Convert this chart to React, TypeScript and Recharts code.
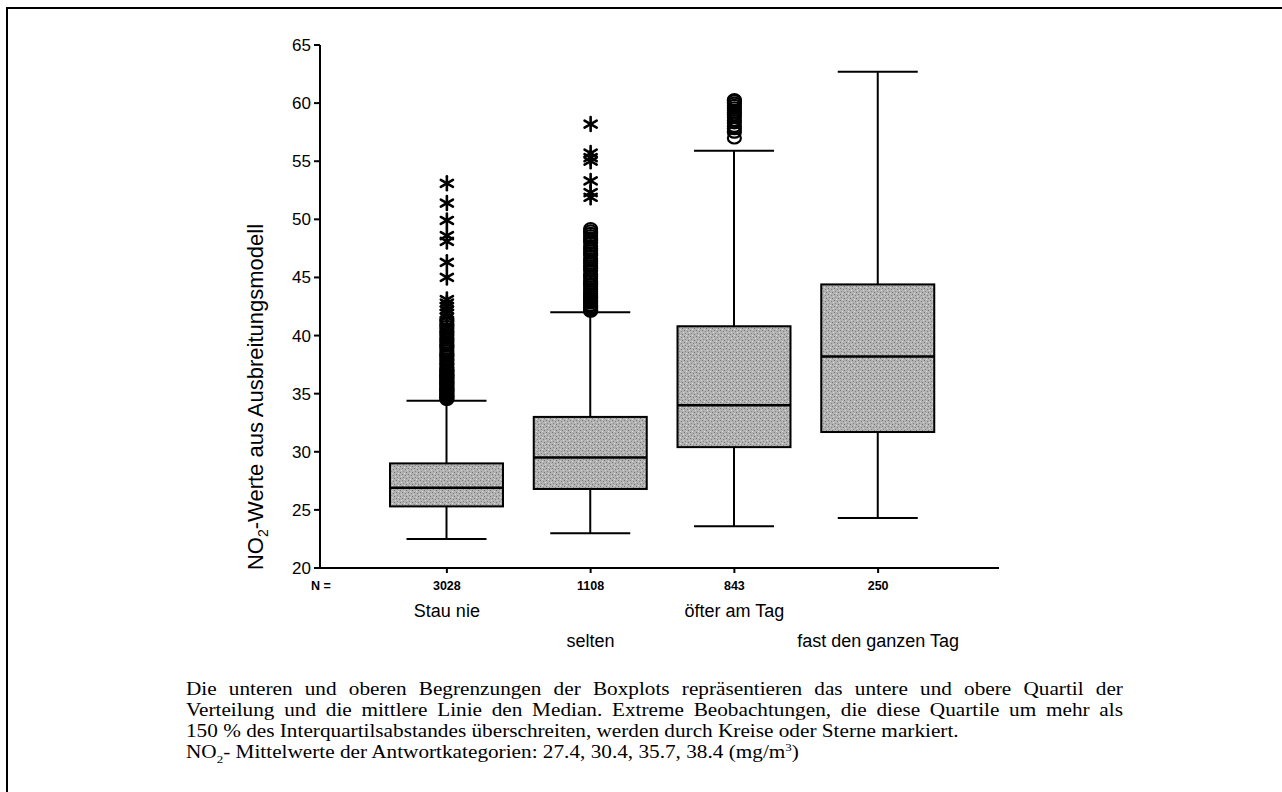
import React from 'react'
import { ComposedChart, Bar, Scatter, XAxis, YAxis } from 'recharts'

const categories = ['Stau nie', 'selten', 'öfter am Tag', 'fast den ganzen Tag']
const nCounts = [3028, 1108, 843, 250]

// boxplot statistics
const whiskerLow = [22.5, 23.0, 23.6, 24.3]
const q1 = [25.3, 26.8, 30.4, 31.7]
const median = [26.9, 29.5, 34.0, 38.2]
const q3 = [29.0, 33.0, 40.8, 44.4]
const whiskerHigh = [34.4, 42.0, 55.9, 62.7]

// outliers (circles) and extremes (stars)
const circlesStau = [
  34.5, 34.6, 34.7, 34.8, 34.9, 35.0, 35.1, 35.2, 35.3, 35.4, 35.5, 35.6, 35.7, 35.8, 35.9, 36.0,
  36.1, 36.2, 36.3, 36.4, 36.5, 36.6, 36.7, 36.8, 36.9, 37.0, 37.1, 37.3, 37.5, 37.6, 37.8, 38.0,
  38.2, 38.3, 38.5, 38.7, 38.9, 39.1, 39.2, 39.4, 39.6, 39.8, 40.0, 40.2, 40.4, 40.6, 40.8, 41.0,
  41.2, 41.4,
]
const starsStau = [53.1, 51.4, 49.9, 48.6, 48.1, 46.3, 45.0, 43.1, 42.8, 42.5, 42.2, 41.9, 41.6]
const circlesSelten = [
  42.1, 42.2, 42.3, 42.4, 42.5, 42.6, 42.8, 42.9, 43.0, 43.2, 43.3, 43.5, 43.6, 43.8, 44.0, 44.2,
  44.4, 44.5, 44.7, 44.9, 45.1, 45.3, 45.6, 45.8, 46.0, 46.2, 46.4, 46.6, 46.9, 47.1, 47.3, 47.5,
  47.7, 48.0, 48.2, 48.4, 48.6, 48.8, 49.0, 49.2,
]
const starsSelten = [58.2, 55.7, 55.3, 55.0, 53.3, 52.3, 51.9]
const circlesOfter = [57.0, 57.5, 57.8, 58.0, 58.3, 58.5, 58.8, 59.0, 59.2, 59.4, 59.6, 59.8, 60.0, 60.2, 60.3]

const yTicks = [20, 25, 30, 35, 40, 45, 50, 55, 60, 65]

const boxData = categories.map((name, i) => ({
  name,
  range: [whiskerLow[i], whiskerHigh[i]],
  q1: q1[i],
  median: median[i],
  q3: q3[i],
}))

const circleData = [
  ...circlesStau.map(v => ({ name: categories[0], v })),
  ...circlesSelten.map(v => ({ name: categories[1], v })),
  ...circlesOfter.map(v => ({ name: categories[2], v })),
]
const starData = [
  ...starsStau.map(v => ({ name: categories[0], v })),
  ...starsSelten.map(v => ({ name: categories[1], v })),
]

const SANS = '"Liberation Sans", Arial, Helvetica, sans-serif'
const SERIF = '"Liberation Serif", "Times New Roman", serif'

function BoxShape(props: any) {
  const { x, y, width, height, payload } = props
  const [lo, hi] = payload.range
  const toY = (v: number) => y + (height * (hi - v)) / (hi - lo)
  const cx = x + width / 2
  const cap = 40
  const top = toY(payload.q3)
  const bottom = toY(payload.q1)
  return (
    <g>
      <line x1={cx} x2={cx} y1={y} y2={y + height} stroke="#000" strokeWidth={2} />
      <line x1={cx - cap} x2={cx + cap} y1={y} y2={y} stroke="#000" strokeWidth={2} />
      <line x1={cx - cap} x2={cx + cap} y1={y + height} y2={y + height} stroke="#000" strokeWidth={2} />
      <rect x={x} y={top} width={width} height={bottom - top} fill="url(#boxTexture)" stroke="#000" strokeWidth={2} />
      <line x1={x} x2={x + width} y1={toY(payload.median)} y2={toY(payload.median)} stroke="#000" strokeWidth={2.5} />
    </g>
  )
}

function CircleMark(props: any) {
  const { cx, cy } = props
  return <ellipse cx={cx} cy={cy} rx={6.5} ry={5.5} fill="none" stroke="#000" strokeWidth={2.2} />
}

function StarMark(props: any) {
  const { cx, cy } = props
  const r = 7
  const dx = r * 0.866
  const dy = r * 0.5
  return (
    <g stroke="#000" strokeWidth={2.6} strokeLinecap="round">
      <line x1={cx} x2={cx} y1={cy - r} y2={cy + r} />
      <line x1={cx - dx} x2={cx + dx} y1={cy - dy} y2={cy + dy} />
      <line x1={cx - dx} x2={cx + dx} y1={cy + dy} y2={cy - dy} />
    </g>
  )
}

function CategoryTick(props: any) {
  const { x, y, payload } = props
  const i = categories.indexOf(payload.value)
  return (
    <g fontFamily={SANS} fill="#000">
      <text x={x} y={y + 17} textAnchor="middle" fontSize={12.5} fontWeight="bold">
        {nCounts[i]}
      </text>
      <text x={x} y={y + (i % 2 === 0 ? 44 : 74)} textAnchor="middle" fontSize={18}>
        {payload.value}
      </text>
    </g>
  )
}

function YLabel() {
  return (
    <text transform="translate(263,397) rotate(-90)" textAnchor="middle" fontFamily={SANS} fontSize={22} fill="#000">
      NO<tspan dy={5} fontSize={14}>2</tspan>
      <tspan dy={-5}>-Werte aus Ausbreitungsmodell</tspan>
    </text>
  )
}

const justified: React.CSSProperties = { width: 794, textAlign: 'justify', textAlignLast: 'justify' }

export default function App() {
  return (
    <div style={{ position: 'absolute', left: 0, top: 0, width: 1282, height: 792, background: '#fff', overflow: 'hidden' }}>
      {/* page frame */}
      <div style={{ position: 'absolute', left: 6, top: 7, width: 1276, height: 2, background: '#000' }} />
      <div style={{ position: 'absolute', left: 6, top: 7, width: 2, height: 785, background: '#000' }} />

      <div style={{ position: 'absolute', left: 0, top: 0 }}>
        <ComposedChart
          width={1282}
          height={670}
          data={boxData}
          margin={{ top: 45, right: 283, left: 260, bottom: 22 }}
        >
          <defs>
            <pattern id="boxTexture" width="6" height="6" patternUnits="userSpaceOnUse">
              <rect width="6" height="6" fill="#b2b2b2" />
              <rect x="0" y="0" width="1" height="1" fill="#777" />
              <rect x="3" y="1" width="1" height="1" fill="#838383" />
              <rect x="1" y="3" width="1" height="1" fill="#8a8a8a" />
              <rect x="4" y="4" width="1" height="1" fill="#747474" />
              <rect x="2" y="5" width="1" height="1" fill="#dedede" />
              <rect x="5" y="2" width="1" height="1" fill="#d8d8d8" />
            </pattern>
          </defs>
          <XAxis
            dataKey="name"
            type="category"
            allowDuplicatedCategory={false}
            padding={{ left: 55, right: 49 }}
            height={80}
            interval={0}
            tickSize={5}
            tickMargin={0}
            tickLine={{ stroke: '#000', strokeWidth: 2 }}
            axisLine={{ stroke: '#000', strokeWidth: 2 }}
            tick={<CategoryTick />}
          />
          <XAxis
            xAxisId="top"
            orientation="top"
            dataKey="name"
            type="category"
            allowDuplicatedCategory={false}
            height={0}
            tick={false}
            tickLine={false}
            axisLine={{ stroke: '#000', strokeWidth: 2 }}
          />
          <YAxis
            type="number"
            domain={[20, 65]}
            ticks={yTicks}
            interval={0}
            width={60}
            tickSize={6}
            tickMargin={3}
            tickLine={{ stroke: '#000', strokeWidth: 2 }}
            axisLine={{ stroke: '#000', strokeWidth: 2 }}
            tick={{ fill: '#000', fontSize: 17, fontFamily: SANS }}
            label={{ content: () => <YLabel /> }}
          />
          <YAxis
            yAxisId="right"
            orientation="right"
            type="number"
            domain={[20, 65]}
            width={0}
            tick={false}
            tickLine={false}
            axisLine={{ stroke: '#000', strokeWidth: 2 }}
          />
          <Bar dataKey="range" barSize={113} shape={<BoxShape />} isAnimationActive={false} />
          <Scatter data={circleData} dataKey="v" shape={<CircleMark />} isAnimationActive={false} />
          <Scatter data={starData} dataKey="v" shape={<StarMark />} isAnimationActive={false} />
        </ComposedChart>
      </div>

      <div style={{ position: 'absolute', left: 311, top: 580, fontFamily: SANS, fontSize: 12.5, fontWeight: 'bold', lineHeight: '12px' }}>
        N =
      </div>

      <div
        style={{
          position: 'absolute',
          left: 186,
          top: 679,
          fontFamily: SERIF,
          fontSize: 18,
          lineHeight: '21px',
          color: '#000',
          whiteSpace: 'nowrap',
          transform: 'scaleX(1.18)',
          transformOrigin: 'left top',
        }}
      >
        <div style={justified}>Die unteren und oberen Begrenzungen der Boxplots repräsentieren das untere und obere Quartil der</div>
        <div style={justified}>Verteilung und die mittlere Linie den Median. Extreme Beobachtungen, die diese Quartile um mehr als</div>
        <div>150 % des Interquartilsabstandes überschreiten, werden durch Kreise oder Sterne markiert.</div>
        <div>
          NO<sub style={{ fontSize: 11, lineHeight: 0 }}>2</sub>- Mittelwerte der Antwortkategorien: 27.4, 30.4, 35.7, 38.4 (mg/m<sup style={{ fontSize: 11, lineHeight: 0 }}>3</sup>)
        </div>
      </div>
    </div>
  )
}
